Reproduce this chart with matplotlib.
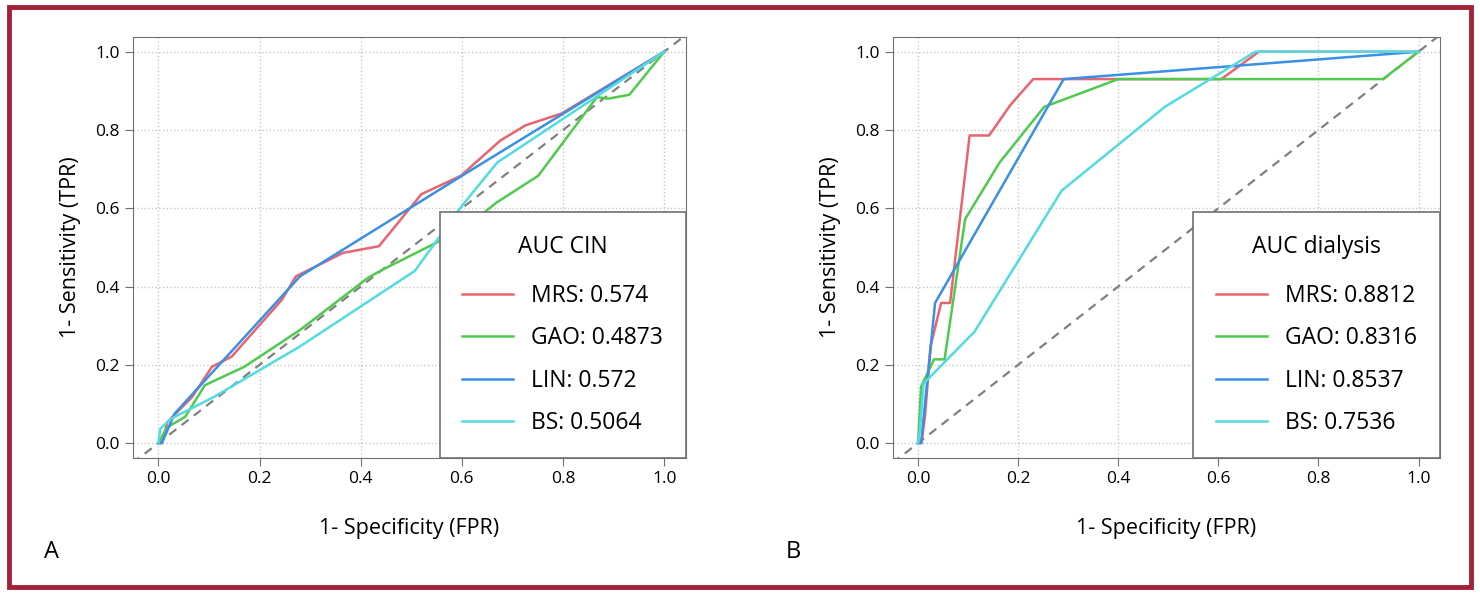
import matplotlib.pyplot as plt
from matplotlib.patches import Rectangle

plt.rcParams['font.family'] = ['Open Sans', 'DejaVu Sans']

# Panel A: CIN
cin_mrs_x = [0, 0.007, 0.018, 0.067, 0.106, 0.145, 0.244, 0.272, 0.365, 0.436, 0.52, 0.598, 0.676, 0.726, 0.797, 1]
cin_mrs_y = [0, 0, 0.054, 0.118, 0.195, 0.221, 0.366, 0.426, 0.486, 0.503, 0.636, 0.683, 0.773, 0.812, 0.842, 1]
cin_gao_x = [0, 0.018, 0.053, 0.092, 0.17, 0.28, 0.414, 0.443, 0.602, 0.669, 0.751, 0.867, 0.889, 0.931, 1]
cin_gao_y = [0, 0.041, 0.067, 0.148, 0.195, 0.289, 0.422, 0.443, 0.546, 0.615, 0.683, 0.884, 0.88, 0.89, 1]
cin_lin_x = [0, 0.007, 0.032, 0.28, 0.6, 1]
cin_lin_y = [0, 0, 0.075, 0.426, 0.683, 1]
cin_bs_x = [0, 0.004, 0.025, 0.11, 0.28, 0.507, 0.6, 0.67, 1]
cin_bs_y = [0, 0.037, 0.062, 0.118, 0.247, 0.44, 0.606, 0.717, 1]
cin_auc = ['0.574', '0.4873', '0.572', '0.5064']

# Panel B: dialysis
dia_mrs_x = [0, 0.007, 0.014, 0.025, 0.046, 0.064, 0.103, 0.142, 0.184, 0.23, 0.606, 0.681, 1]
dia_mrs_y = [0, 0, 0.071, 0.247, 0.358, 0.358, 0.786, 0.786, 0.863, 0.93, 0.93, 1, 1]
dia_gao_x = [0, 0.006, 0.032, 0.053, 0.094, 0.163, 0.252, 0.4, 0.929, 1]
dia_gao_y = [0, 0.144, 0.214, 0.214, 0.572, 0.717, 0.859, 0.93, 0.93, 1]
dia_lin_x = [0, 0.006, 0.034, 0.291, 1]
dia_lin_y = [0, 0, 0.358, 0.93, 1]
dia_bs_x = [0, 0.004, 0.011, 0.113, 0.287, 0.493, 0.674, 1]
dia_bs_y = [0, 0.037, 0.152, 0.285, 0.645, 0.859, 1, 1]
dia_auc = ['0.8812', '0.8316', '0.8537', '0.7536']

names = ['MRS', 'GAO', 'LIN', 'BS']
colors = ['#ea6470', '#4fca4f', '#3b8fe4', '#52dbe0']

fig = plt.figure(figsize=(14.8, 5.94), dpi=100)
fig.patches.append(Rectangle((0.006, 0.012), 0.988, 0.976, transform=fig.transFigure,
                             fill=False, edgecolor='#a3223a', linewidth=3.5))

panels = [
    ([0.0899, 0.229, 0.3736, 0.709], 'AUC CIN', cin_auc,
     [(cin_mrs_x, cin_mrs_y), (cin_gao_x, cin_gao_y), (cin_lin_x, cin_lin_y), (cin_bs_x, cin_bs_y)], 'A', 0.03),
    ([0.6034, 0.229, 0.3696, 0.709], 'AUC dialysis', dia_auc,
     [(dia_mrs_x, dia_mrs_y), (dia_gao_x, dia_gao_y), (dia_lin_x, dia_lin_y), (dia_bs_x, dia_bs_y)], 'B', 0.531),
]

for rect, title, aucs, curves, letter, lx in panels:
    ax = fig.add_axes(rect)
    ax.set_xlim(-0.05, 1.043)
    ax.set_ylim(-0.038, 1.038)
    ax.grid(True, linestyle=':', color='#c8c8c8', linewidth=1)
    ax.plot([-0.1, 1.1], [-0.1, 1.1], linestyle='--', color='#808080', linewidth=1.6, dashes=(4, 3))
    for (xs, ys), name, auc, c in zip(curves, names, aucs, colors):
        ax.plot(xs, ys, color=c, linewidth=1.8, label=f'{name}: {auc}')
    ax.set_xticks([0, 0.2, 0.4, 0.6, 0.8, 1.0])
    ax.set_yticks([0, 0.2, 0.4, 0.6, 0.8, 1.0])
    ax.set_xticklabels(['0.0', '0.2', '0.4', '0.6', '0.8', '1.0'])
    ax.set_yticklabels(['0.0', '0.2', '0.4', '0.6', '0.8', '1.0'])
    ax.tick_params(labelsize=12.5, length=6, color='#707070')
    for s in ax.spines.values():
        s.set_color('#707070')
    ax.set_xlabel('1- Specificity (FPR)', fontsize=15.5, labelpad=22)
    ax.set_ylabel('1- Sensitivity (TPR)', fontsize=15.5, labelpad=10)
    leg = ax.legend(title=title, loc='lower right', borderaxespad=0, fontsize=16.5,
                    title_fontsize=16.5, fancybox=False, edgecolor='#707070',
                    handlelength=2.2, labelspacing=0.8, borderpad=1.0, framealpha=1)
    leg.get_frame().set_linewidth(1.2)
    leg._legend_box.sep = 18
    fig.text(lx, 0.06, letter, fontsize=17)

fig.savefig('out.png', dpi=100)
